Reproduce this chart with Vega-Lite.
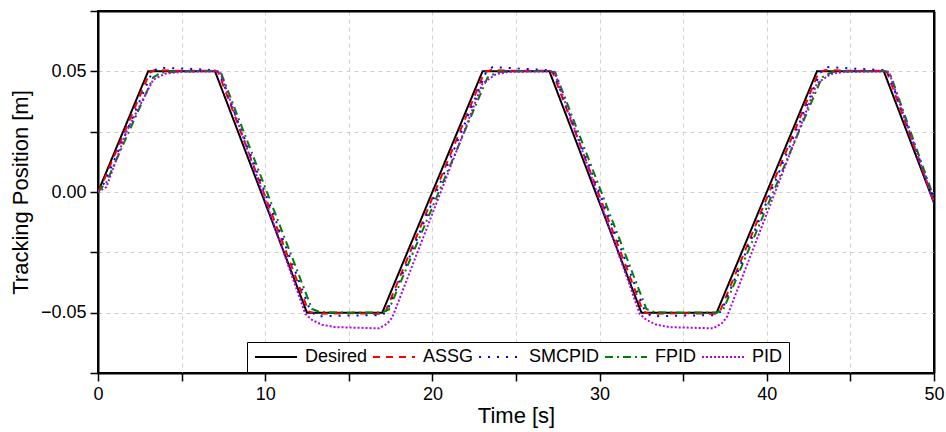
{
  "$schema": "https://vega.github.io/schema/vega-lite/v6.json",
  "autosize": {"type": "none"},
  "padding": {"left": 98, "top": 11, "right": 12, "bottom": 59},
  "width": 836,
  "height": 362,
  "background": "white",
  "config": {
    "font": "Liberation Sans",
    "view": {"stroke": "black", "strokeWidth": 2},
    "axis": {
      "domainColor": "black", "domainWidth": 2, "tickColor": "black", "tickWidth": 1.5, "tickSize": 8,
      "labelColor": "black", "titleColor": "black", "labelFont": "Liberation Sans", "titleFont": "Liberation Sans",
      "labelFontSize": 18, "titleFontSize": 22, "titleFontWeight": "normal",
      "gridColor": "#d0d0d0", "gridDash": [4, 4], "gridWidth": 1, "labelPadding": 4
    }
  },
  "resolve": {"axis": {"x": "independent", "y": "independent"}},
  "datasets": {
    "corner": [{"t": 50, "v": 0.075}],
    "curves": [
    {"series":"Desired","t":0,"y":0},{"series":"Desired","t":3,"y":0.05},{"series":"Desired","t":7,"y":0.05},{"series":"Desired","t":12.5,"y":-0.05},{"series":"Desired","t":17,"y":-0.05},{"series":"Desired","t":23,"y":0.05},{"series":"Desired","t":27,"y":0.05},{"series":"Desired","t":32.5,"y":-0.05},{"series":"Desired","t":37,"y":-0.05},{"series":"Desired","t":43,"y":0.05},{"series":"Desired","t":47,"y":0.05},{"series":"Desired","t":50,"y":-0.0045},

    {"series":"ASSG","t":0,"y":0},{"series":"ASSG","t":0.3,"y":0.004},{"series":"ASSG","t":3.1,"y":0.0495},{"series":"ASSG","t":3.4,"y":0.0505},{"series":"ASSG","t":5,"y":0.0502},{"series":"ASSG","t":7,"y":0.0503},{"series":"ASSG","t":7.2,"y":0.0495},{"series":"ASSG","t":12.6,"y":-0.0495},{"series":"ASSG","t":13,"y":-0.0505},{"series":"ASSG","t":15,"y":-0.0502},{"series":"ASSG","t":17,"y":-0.0505},{"series":"ASSG","t":17.2,"y":-0.0495},{"series":"ASSG","t":23.1,"y":0.0495},{"series":"ASSG","t":23.5,"y":0.0505},{"series":"ASSG","t":25,"y":0.0502},{"series":"ASSG","t":27,"y":0.0503},{"series":"ASSG","t":27.2,"y":0.0495},{"series":"ASSG","t":32.6,"y":-0.0495},{"series":"ASSG","t":33,"y":-0.0505},{"series":"ASSG","t":35,"y":-0.0502},{"series":"ASSG","t":37,"y":-0.0505},{"series":"ASSG","t":37.2,"y":-0.0495},{"series":"ASSG","t":43.1,"y":0.0495},{"series":"ASSG","t":43.5,"y":0.0505},{"series":"ASSG","t":45,"y":0.0502},{"series":"ASSG","t":47,"y":0.0503},{"series":"ASSG","t":47.2,"y":0.0495},{"series":"ASSG","t":50,"y":-0.004},

    {"series":"SMCPID","t":0,"y":0},{"series":"SMCPID","t":0.4,"y":0.004},{"series":"SMCPID","t":3.2,"y":0.049},{"series":"SMCPID","t":3.6,"y":0.0515},{"series":"SMCPID","t":5,"y":0.0512},{"series":"SMCPID","t":7,"y":0.0505},{"series":"SMCPID","t":7.25,"y":0.0495},{"series":"SMCPID","t":12.7,"y":-0.0492},{"series":"SMCPID","t":13.1,"y":-0.0515},{"series":"SMCPID","t":15,"y":-0.0512},{"series":"SMCPID","t":17,"y":-0.051},{"series":"SMCPID","t":17.3,"y":-0.0492},{"series":"SMCPID","t":23.2,"y":0.0495},{"series":"SMCPID","t":23.6,"y":0.0518},{"series":"SMCPID","t":25,"y":0.0512},{"series":"SMCPID","t":27,"y":0.0505},{"series":"SMCPID","t":27.25,"y":0.0495},{"series":"SMCPID","t":32.7,"y":-0.0492},{"series":"SMCPID","t":33.1,"y":-0.0515},{"series":"SMCPID","t":35,"y":-0.0512},{"series":"SMCPID","t":37,"y":-0.051},{"series":"SMCPID","t":37.3,"y":-0.0492},{"series":"SMCPID","t":43.2,"y":0.0495},{"series":"SMCPID","t":43.6,"y":0.0518},{"series":"SMCPID","t":45,"y":0.0512},{"series":"SMCPID","t":47,"y":0.0505},{"series":"SMCPID","t":47.25,"y":0.0495},{"series":"SMCPID","t":50,"y":-0.003},

    {"series":"FPID","t":0,"y":0},{"series":"FPID","t":0.5,"y":0.004},{"series":"FPID","t":3.3,"y":0.0475},{"series":"FPID","t":3.8,"y":0.0495},{"series":"FPID","t":5,"y":0.05},{"series":"FPID","t":7,"y":0.0502},{"series":"FPID","t":7.35,"y":0.0495},{"series":"FPID","t":12.8,"y":-0.0485},{"series":"FPID","t":13.3,"y":-0.0498},{"series":"FPID","t":15,"y":-0.05},{"series":"FPID","t":17,"y":-0.0499},{"series":"FPID","t":17.4,"y":-0.0487},{"series":"FPID","t":23.3,"y":0.0475},{"series":"FPID","t":23.9,"y":0.0497},{"series":"FPID","t":25,"y":0.05},{"series":"FPID","t":27,"y":0.0502},{"series":"FPID","t":27.35,"y":0.0495},{"series":"FPID","t":32.8,"y":-0.0485},{"series":"FPID","t":33.3,"y":-0.0498},{"series":"FPID","t":35,"y":-0.05},{"series":"FPID","t":37,"y":-0.0499},{"series":"FPID","t":37.4,"y":-0.0487},{"series":"FPID","t":43.3,"y":0.0475},{"series":"FPID","t":43.9,"y":0.0497},{"series":"FPID","t":45,"y":0.05},{"series":"FPID","t":47,"y":0.0502},{"series":"FPID","t":47.35,"y":0.0495},{"series":"FPID","t":50,"y":-0.0025},

    {"series":"PID","t":0,"y":0},{"series":"PID","t":0.5,"y":0.002},{"series":"PID","t":1.7,"y":0.025},{"series":"PID","t":3.3,"y":0.0465},{"series":"PID","t":4,"y":0.049},{"series":"PID","t":5,"y":0.0498},{"series":"PID","t":7,"y":0.05},{"series":"PID","t":7.3,"y":0.0498},{"series":"PID","t":12.4,"y":-0.0505},{"series":"PID","t":12.8,"y":-0.053},{"series":"PID","t":13.4,"y":-0.055},{"series":"PID","t":14.2,"y":-0.056},{"series":"PID","t":16.8,"y":-0.0565},{"series":"PID","t":17.3,"y":-0.0545},{"series":"PID","t":17.6,"y":-0.052},{"series":"PID","t":20.5,"y":0},{"series":"PID","t":23,"y":0.045},{"series":"PID","t":23.8,"y":0.0488},{"series":"PID","t":24.6,"y":0.0498},{"series":"PID","t":27,"y":0.05},{"series":"PID","t":27.3,"y":0.0498},{"series":"PID","t":32.4,"y":-0.0505},{"series":"PID","t":32.8,"y":-0.053},{"series":"PID","t":33.4,"y":-0.055},{"series":"PID","t":34.2,"y":-0.056},{"series":"PID","t":36.8,"y":-0.0565},{"series":"PID","t":37.3,"y":-0.0545},{"series":"PID","t":37.6,"y":-0.052},{"series":"PID","t":40.5,"y":0},{"series":"PID","t":43,"y":0.045},{"series":"PID","t":43.8,"y":0.0488},{"series":"PID","t":44.6,"y":0.0498},{"series":"PID","t":47,"y":0.05},{"series":"PID","t":47.3,"y":0.0498},{"series":"PID","t":50,"y":-0.0045}
  ]},
  "layer": [
    {
      "data": {"name": "curves"},
      "mark": {"type": "line", "strokeWidth": 2, "clip": true},
      "encoding": {
        "x": {"field": "t", "type": "quantitative", "title": "Time [s]",
          "scale": {"domain": [0, 50], "nice": false, "zero": false},
          "axis": {"values": [0,5,10,15,20,25,30,35,40,45,50], "labelExpr": "datum.value % 10 == 0 ? datum.label : ''", "format": "d", "titlePadding": 2, "labelFlush": false,
            "gridOpacity": {"condition": {"test": "datum.value <= 0 || datum.value >= 50", "value": 0}, "value": 1}}},
        "y": {"field": "y", "type": "quantitative", "title": "Tracking Position [m]",
          "scale": {"domain": [-0.075, 0.075], "nice": false, "zero": false},
          "axis": {"values": [-0.075,-0.05,-0.025,0,0.025,0.05,0.075], "labelExpr": "round(datum.value*1000) % 50 == 0 ? format(datum.value, '.2f') : ''", "titlePadding": 8,
            "gridOpacity": {"condition": {"test": "abs(datum.value) > 0.07", "value": 0}, "value": 1}}},
        "color": {"field": "series", "type": "nominal",
          "scale": {"domain": ["Desired","ASSG","SMCPID","FPID","PID"], "range": ["#000000","#ff0000","#0000ff","#008000","#b000e8"]},
          "legend": {"title": null, "orient": "none", "legendX": 149, "legendY": 331, "direction": "horizontal", "columns": 5,
            "symbolType": "M-1,0H5", "symbolSize": 196, "symbolStrokeWidth": 2, "labelFontSize": 18, "labelColor": "black",
            "labelFont": "Liberation Sans", "columnPadding": 1, "labelOffset": 34, "padding": 6, "strokeColor": "black", "fillColor": "white", "symbolOffset": 0}},
        "strokeDash": {"field": "series", "type": "nominal",
          "scale": {"domain": ["Desired","ASSG","SMCPID","FPID","PID"], "range": [[1,0],[7,6],[2,7],[8,4,2,4],[2,2]]},
          "legend": null},
        "order": {"field": "series"}
      }
    },
    {
      "data": {"name": "corner"},
      "mark": {"type": "point", "opacity": 0},
      "encoding": {
        "x": {"field": "t", "type": "quantitative",
          "axis": {"orient": "top", "title": null, "labels": false, "ticks": false, "grid": false, "domain": true, "domainColor": "black", "domainWidth": 2}},
        "y": {"field": "v", "type": "quantitative",
          "axis": {"orient": "right", "title": null, "labels": false, "ticks": false, "grid": false, "domain": true, "domainColor": "black", "domainWidth": 2}}
      }
    }
  ]
}
